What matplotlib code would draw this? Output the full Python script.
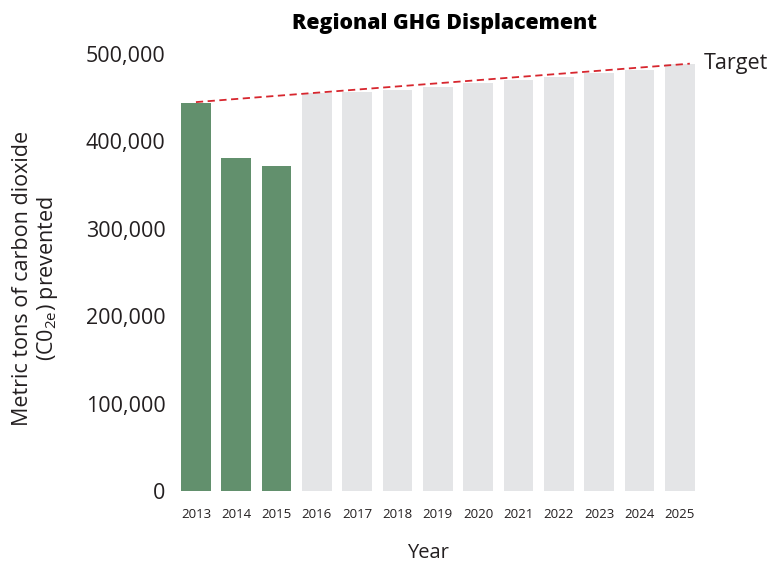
import numpy as np
import matplotlib
matplotlib.use("Agg")
import matplotlib.pyplot as plt
from matplotlib.ticker import FuncFormatter

plt.rcParams['font.family'] = ['Open Sans', 'DejaVu Sans']
plt.rcParams['mathtext.fontset'] = 'custom'
plt.rcParams['mathtext.rm'] = 'Open Sans'

# data
years = [2013, 2014, 2015, 2016, 2017, 2018, 2019, 2020, 2021, 2022, 2023, 2024, 2025]
actual = [444000, 381000, 372000]  # 2013-2015, measured
projected = [455000, 456000, 459000, 462000, 467000, 470000, 474000, 478000, 482000, 489000]  # 2016-2025
target_start = 445000
target_end = 489000

green = '#62906d'
grey = '#e4e5e7'
red = '#d7262e'

fig = plt.figure(figsize=(7.7, 5.63), dpi=100)
ax = fig.add_axes([0.222, 0.128, 0.687, 0.776])

x = np.arange(len(years))
n_act = len(actual)
ax.bar(x[:n_act], actual, width=0.74, color=green, zorder=2)
ax.bar(x[n_act:], projected, width=0.74, color=grey, zorder=2)

# target trend line, bar 2013 centre to just past centre of 2025 bar
ax.plot([x[0], x[-1] + 0.25], [target_start, target_end], color=red,
        linestyle=(0, (4, 2.5)), linewidth=1.3, zorder=3)
ax.text(x[-1] + 0.6, target_end, 'Target', fontsize=15.5, color='#231f20',
        va='center', ha='left')

ax.set_xlim(-0.62, 12.5)
ax.set_ylim(0, 500000)
ax.set_yticks(np.arange(0, 500001, 100000))
ax.yaxis.set_major_formatter(FuncFormatter(lambda v, p: '{:,.0f}'.format(v)))
ax.set_xticks(x)
ax.set_xticklabels([str(y) for y in years], fontsize=9.5, color='#231f20')
ax.tick_params(axis='y', labelsize=15.5, length=0, pad=4, labelcolor='#231f20')
ax.tick_params(axis='x', length=0, pad=12)
for s in ax.spines.values():
    s.set_visible(False)

fig.text(445 / 770, 1 - 23 / 563, 'Regional GHG Displacement', fontsize=15.3,
         fontweight='heavy', ha='center', va='center', color='black')
fig.text(428 / 770, 1 - 553 / 563, 'Year', fontsize=14.5, ha='center',
         va='center', color='#231f20')
fig.text(36 / 770, 1 - 278 / 563,
         'Metric tons of carbon dioxide\n(C0$_{\\mathrm{2e}}$) prevented',
         fontsize=15.5, rotation=90, ha='center', va='center',
         multialignment='center', color='#231f20', linespacing=1.15)

fig.savefig('out.png', dpi=100)
